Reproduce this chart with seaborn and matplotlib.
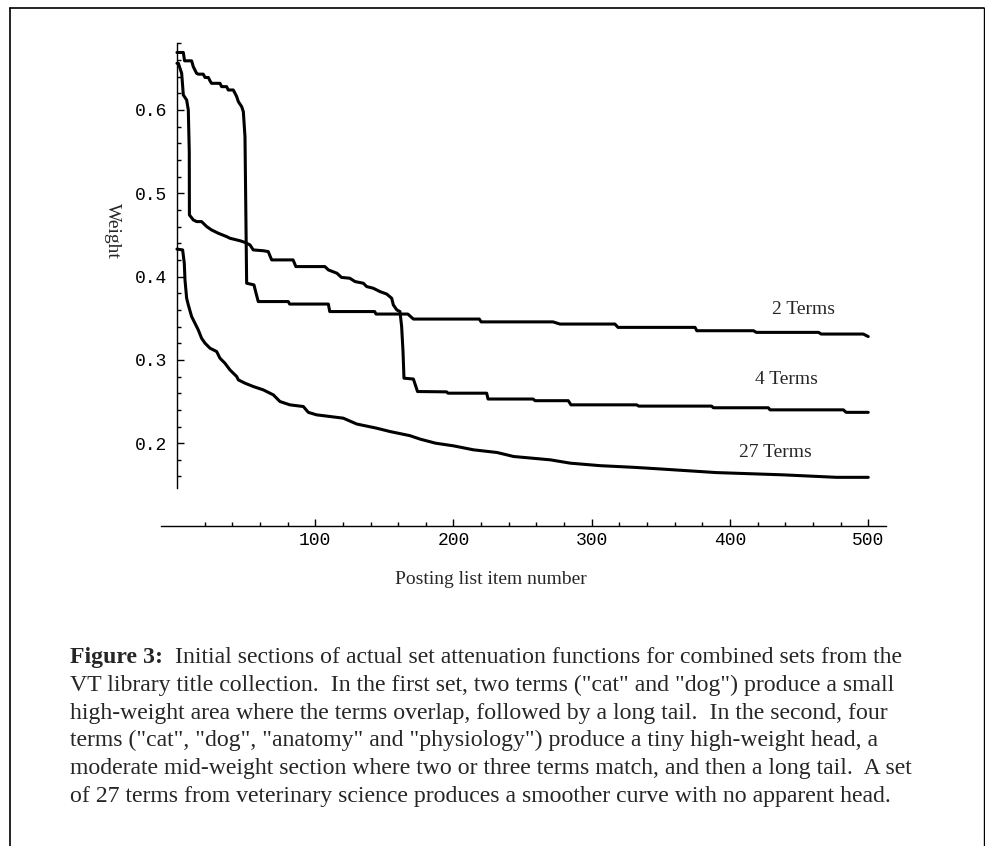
import numpy as np
import pandas as pd
import matplotlib
matplotlib.use("Agg")
import matplotlib.pyplot as plt
from matplotlib.lines import Line2D
import seaborn as sns

# curve 1: 2 terms
x2 = [0, 4.6, 5.5, 10.6, 11.8, 14.2, 15.4, 19, 20.3, 22.7, 23.9, 25, 31.1, 32.3, 35.9, 37.1,
      40.7, 42, 43.2, 44.4, 46.8, 48, 49.2, 50.4, 55.7, 57.2, 58.8, 80.5, 81.5, 109.5, 110.5,
      143, 144, 167, 171, 218.7, 220, 272, 277, 316.8, 319, 374.7, 376, 417, 419, 464, 466,
      496.4, 500]
y2 = [0.669, 0.669, 0.659, 0.659, 0.652, 0.644, 0.643, 0.643, 0.639, 0.639, 0.635, 0.632,
      0.632, 0.628, 0.628, 0.624, 0.624, 0.620, 0.616, 0.610, 0.604, 0.598, 0.568, 0.392,
      0.390, 0.380, 0.370, 0.370, 0.367, 0.367, 0.358, 0.358, 0.355, 0.355, 0.349, 0.349,
      0.3456, 0.3456, 0.343, 0.343, 0.339, 0.339, 0.335, 0.335, 0.333, 0.333, 0.331,
      0.331, 0.328]

# curve 2: 4 terms
x4 = [0, 1, 3.4, 4.6, 7, 8.2, 8.9, 9, 11.8, 14.2, 17.8, 21.5, 25, 29.9, 35.9, 38.3, 45.6,
      49.2, 52.8, 55.2, 62.4, 66, 68.5, 84, 86, 107, 109.5, 115.7, 119, 125, 128.8, 134.8,
      137.2, 142, 146.8, 151.7, 155.3, 156.5, 159, 161.3, 162.5, 163.5, 164.2, 171, 174,
      195, 196, 224, 225, 257.6, 259, 283, 285, 332.5, 334, 386.7, 388, 427.7, 429, 482,
      484, 500]
y4 = [0.656, 0.656, 0.644, 0.618, 0.612, 0.600, 0.550, 0.474, 0.468, 0.466, 0.466, 0.460,
      0.456, 0.452, 0.448, 0.446, 0.443, 0.441, 0.438, 0.432, 0.431, 0.430, 0.420, 0.420,
      0.412, 0.412, 0.408, 0.404, 0.399, 0.398, 0.394, 0.392, 0.388, 0.386, 0.382, 0.379,
      0.374, 0.366, 0.360, 0.358, 0.340, 0.310, 0.278, 0.277, 0.262, 0.2616, 0.260, 0.260,
      0.253, 0.253, 0.251, 0.251, 0.246, 0.246, 0.2445, 0.2445, 0.2425, 0.2425, 0.240,
      0.240, 0.237, 0.237]

# curve 3: 27 terms
x27 = [0, 4.1, 5.3, 5.8, 7, 8.2, 10.6, 13, 15.4, 17.8, 20.3, 23.9, 28.7, 31.1, 34.7, 38.3,
       43.2, 44.4, 49.2, 55.2, 62.4, 69.7, 74.5, 81.7, 91.4, 95, 101, 110.7, 120.3, 130,
       144.4, 154, 168.5, 176, 187, 200, 214.5, 231.5, 243.5, 270, 284.5, 306, 330.5, 350,
       390, 438, 477, 500]
y27 = [0.433, 0.432, 0.416, 0.396, 0.374, 0.366, 0.352, 0.344, 0.336, 0.326, 0.320, 0.314,
       0.310, 0.302, 0.296, 0.288, 0.280, 0.276, 0.272, 0.268, 0.264, 0.258, 0.250, 0.246,
       0.244, 0.237, 0.234, 0.232, 0.230, 0.223, 0.218, 0.214, 0.209, 0.2048, 0.200,
       0.1968, 0.192, 0.1888, 0.184, 0.180, 0.176, 0.173, 0.171, 0.169, 0.1647, 0.162,
       0.159, 0.159]

curve_labels = ["2 Terms", "4 Terms", "27 Terms"]
label_x = [453.5, 441, 432.5]
label_y = [0.3607, 0.2759, 0.189]

x_major = [100, 200, 300, 400, 500]
x_minor = [v for v in range(20, 501, 20) if v % 100 != 0]
y_major = [0.2, 0.3, 0.4, 0.5, 0.6]
y_minor = [round(0.16 + 0.02 * i, 2) for i in range(27) if (i + 8) % 5 != 0]

caption = [
    "  Initial sections of actual set attenuation functions for combined sets from the",
    "VT library title collection.  In the first set, two terms (\"cat\" and \"dog\") produce a small",
    "high-weight area where the terms overlap, followed by a long tail.  In the second, four",
    "terms (\"cat\", \"dog\", \"anatomy\" and \"physiology\") produce a tiny high-weight head, a",
    "moderate mid-weight section where two or three terms match, and then a long tail.  A set",
    "of 27 terms from veterinary science produces a smoother curve with no apparent head.",
]

sns.set_style("white")
serif = ["Liberation Serif", "DejaVu Serif"]
mono = ["Liberation Mono", "DejaVu Sans Mono"]

fig = plt.figure(figsize=(9.85, 8.46), dpi=100)
ax = fig.add_axes([0.14457, 0.36785, 0.76497, 0.59078])

for xs, ys in [(x2, y2), (x4, y4), (x27, y27)]:
    sns.lineplot(x=xs, y=ys, color="black", lw=2.2, sort=False, estimator=None, ax=ax)

ax.set_xlim(-25, 520)
ax.set_ylim(0.09, 0.69)

for s in ["top", "right"]:
    ax.spines[s].set_visible(False)
ax.spines["left"].set_position(("data", 0))
ax.spines["left"].set_bounds(0.146, 0.68)
ax.spines["bottom"].set_position(("data", 0.1))
ax.spines["bottom"].set_bounds(-11.8, 512.8)
for s in ["left", "bottom"]:
    ax.spines[s].set_linewidth(1.0)
    ax.spines[s].set_color("black")

ax.set_xticks(x_major)
ax.set_xticks(x_minor, minor=True)
ax.set_yticks(y_major)
ax.set_yticks(y_minor, minor=True)
ax.set_xticklabels([str(v) for v in x_major], family=mono, fontsize=13)
ax.set_yticklabels([str(v) for v in y_major], family=mono, fontsize=13)
ax.tick_params(which="both", direction="in", color="black", width=1.0, labelcolor="black")
ax.tick_params(which="major", length=5)
ax.tick_params(which="minor", length=3)
ax.tick_params(axis="x", which="both", pad=4, bottom=True)
ax.tick_params(axis="y", which="both", pad=7, left=True)
ax.set_xlabel("")
ax.set_ylabel("")

for t, lx, ly in zip(curve_labels, label_x, label_y):
    ax.text(lx, ly, t, ha="center", va="center", family=serif, fontsize=14)

fig.text(112 / 985, 1 - 231 / 846, "Weight", rotation=270, ha="center", va="center",
         family=serif, fontsize=14)
fig.text(491 / 985, 1 - 579 / 846, "Posting list item number", ha="center", va="center",
         family=serif, fontsize=14)

# caption (baselines in pixels)
line_y = [663, 690.8, 718.6, 746.4, 774.2, 802]
cap_x = 70 / 985
cap_size = 17.15
t1 = fig.text(cap_x, 1 - line_y[0] / 846, "Figure 3:", ha="left", va="baseline",
              family=serif, fontsize=cap_size, fontweight="bold")
fig.canvas.draw()
ax.annotate(caption[0], xy=(1, 0), xycoords=t1, ha="left", va="bottom",
            family=serif, fontsize=cap_size, annotation_clip=False)
for txt, yy in zip(caption[1:], line_y[1:]):
    fig.text(cap_x, 1 - yy / 846, txt, ha="left", va="baseline", family=serif, fontsize=cap_size)

# page border
bx0, bx1, by0 = 10 / 985, 984 / 985, 1 - 8 / 846
fig.add_artist(Line2D([bx0, bx0], [-0.1, by0], transform=fig.transFigure, color="black", lw=1.2))
fig.add_artist(Line2D([bx0, bx1], [by0, by0], transform=fig.transFigure, color="black", lw=1.2))
fig.add_artist(Line2D([bx1, bx1], [by0, -0.1], transform=fig.transFigure, color="black", lw=1.0))

fig.savefig("out.png", dpi=100)
